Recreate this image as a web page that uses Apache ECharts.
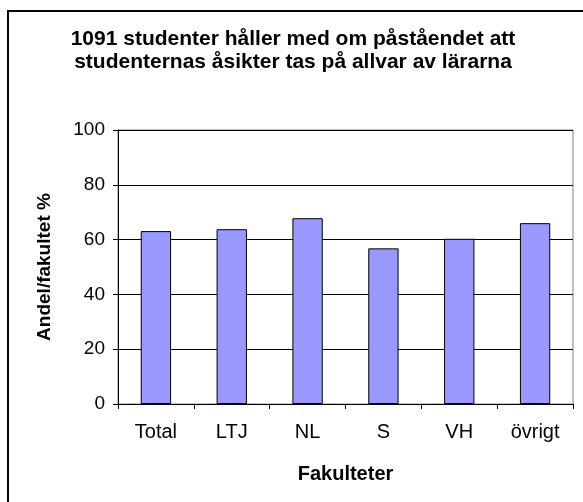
<!DOCTYPE html>
<html>
<head>
<meta charset="utf-8">
<style>
html,body{margin:0;padding:0;background:#fff;}
#chart{width:583px;height:502px;}
</style>
<script src="https://cdn.jsdelivr.net/npm/echarts@6/dist/echarts.min.js"></script>
</head>
<body>
<div id="chart"></div>
<script>
const categories = ['Total', 'LTJ', 'NL', 'S', 'VH', 'övrigt'];
const values = [63.1, 63.8, 67.8, 56.8, 60.3, 66.0];
const yTicks = [0, 20, 40, 60, 80, 100];
const titleText = '1091 studenter håller med om påståendet att\nstudenternas åsikter tas på allvar av lärarna';
const yName = 'Andel/fakultet %';
const xName = 'Fakulteter';

const FONT = '"Liberation Sans", Arial, sans-serif';
const chart = echarts.init(document.getElementById('chart'), null, {renderer: 'canvas'});
chart.setOption({
  backgroundColor: '#fff',
  animation: false,
  title: {
    text: titleText,
    left: 288,
    textAlign: 'center',
    top: 23,
    textStyle: {fontFamily: FONT, fontSize: 21, fontWeight: 'bold', color: '#000', lineHeight: 23}
  },
  graphic: [{
    type: 'rect',
    shape: {x: 8, y: 11, width: 620, height: 620},
    style: {fill: 'none', stroke: '#000', lineWidth: 2},
    silent: true
  }],
  grid: {
    left: 118, right: 10, top: 130, bottom: 98,
    show: true, borderColor: '#808080', borderWidth: 1, backgroundColor: 'transparent'
  },
  xAxis: {
    type: 'category',
    data: categories,
    name: xName,
    nameLocation: 'middle',
    nameGap: 60,
    nameTextStyle: {fontFamily: FONT, fontSize: 20, fontWeight: 'bold', color: '#000'},
    axisLine: {show: true, lineStyle: {color: '#000', width: 1}},
    axisTick: {show: true, alignWithLabel: false, length: 5, lineStyle: {color: '#000'}},
    axisLabel: {fontFamily: FONT, fontSize: 20, color: '#000', margin: 18},
    splitLine: {show: false}
  },
  yAxis: {
    type: 'value',
    min: 0, max: 100, interval: 20,
    name: yName,
    nameLocation: 'middle',
    nameGap: 64,
    nameRotate: 90,
    nameTextStyle: {fontFamily: FONT, fontSize: 19, fontWeight: 'bold', color: '#000'},
    axisLine: {show: true, lineStyle: {color: '#000', width: 1}},
    axisTick: {show: true, length: 5, lineStyle: {color: '#000'}},
    axisLabel: {fontFamily: FONT, fontSize: 19, color: '#000', margin: 13,
      formatter: v => yTicks.includes(v) ? String(v) : ''},
    splitLine: {show: true, lineStyle: {color: '#000', width: 1}}
  },
  series: [{
    type: 'bar',
    data: values,
    barWidth: '40%',
    itemStyle: {color: '#9999FF', borderColor: '#000', borderWidth: 1}
  }]
});
</script>
</body>
</html>
